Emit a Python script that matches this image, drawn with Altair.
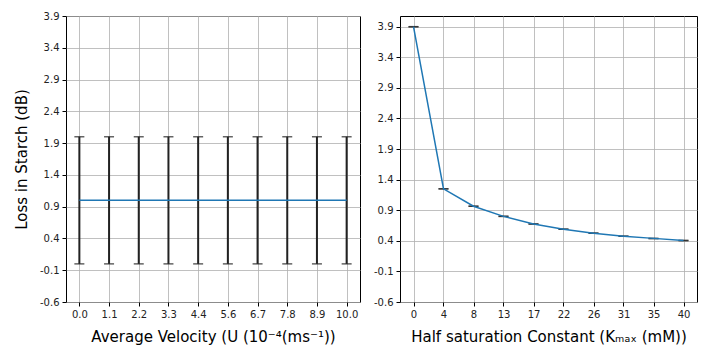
import altair as alt
import pandas as pd

# ---- data ----
velocity = [0.0, 1.111, 2.222, 3.333, 4.444, 5.556, 6.667, 7.778, 8.889, 10.0]
loss_velocity = [1.0, 1.0, 1.0, 1.0, 1.0, 1.0, 1.0, 1.0, 1.0, 1.0]
err_velocity = [1.0, 1.0, 1.0, 1.0, 1.0, 1.0, 1.0, 1.0, 1.0, 1.0]

kmax = [0.0, 4.444, 8.889, 13.333, 17.778, 22.222, 26.667, 31.111, 35.556, 40.0]
loss_kmax = [3.9, 1.25, 0.965, 0.80, 0.675, 0.59, 0.525, 0.475, 0.44, 0.405]
err_kmax = [0.0, 0.0, 0.0, 0.0, 0.0, 0.0, 0.0, 0.0, 0.0, 0.0]

y_ticks = [-0.6, -0.1, 0.4, 0.9, 1.4, 1.9, 2.4, 2.9, 3.4, 3.9]

LINE = "#1f77b4"
ERR = "#222222"


def make_df(xs, ys, es):
    return pd.DataFrame({
        "x": xs, "y": ys,
        "lo": [a - b for a, b in zip(ys, es)],
        "hi": [a + b for a, b in zip(ys, es)],
    })


Y_LABEL = "replace(format(datum.value, '.1f'), '\u2212', '-')"


def panel(df, xdomain, xticks, label_expr, ydomain, xtitle, ytitle, width, bar_width):
    base = alt.Chart(df)
    xenc = alt.X("x:Q", scale=alt.Scale(domain=xdomain, nice=False, zero=False),
                 axis=alt.Axis(values=xticks, tickCount=30, labelExpr=label_expr, title=xtitle,
                               labelOverlap=False, labelFlush=False))
    if ytitle:
        yaxis = alt.Axis(values=y_ticks, tickCount=30, labelExpr=Y_LABEL, title=ytitle,
                         labelOverlap=False, labelFlush=False)
    else:
        yaxis = alt.Axis(values=y_ticks, tickCount=30, labelExpr=Y_LABEL, title=None,
                         labelOverlap=False, labelFlush=False)
    yenc = alt.Y("lo:Q", scale=alt.Scale(domain=ydomain, nice=False, zero=False), axis=yaxis)
    bars = base.mark_rule(color=ERR, strokeWidth=bar_width).encode(x=xenc, y=yenc, y2="hi:Q")
    cap_lo = base.mark_tick(orient="horizontal", color=ERR, size=10, thickness=1.5).encode(
        x="x:Q", y="lo:Q")
    cap_hi = base.mark_tick(orient="horizontal", color=ERR, size=10, thickness=1.5).encode(
        x="x:Q", y="hi:Q")
    line = base.mark_line(color=LINE, strokeWidth=1.5).encode(x="x:Q", y="y:Q")
    return alt.layer(bars, cap_lo, cap_hi, line).properties(width=width, height=286)


left = panel(make_df(velocity, loss_velocity, err_velocity), [-0.5, 10.5], velocity,
             "format(datum.value, '.1f')", [-0.6, 3.9],
             "Average Velocity (U (10⁻⁴(ms⁻¹))", "Loss in Starch (dB)", 294, 2)
right = panel(make_df(kmax, loss_kmax, err_kmax), [-2, 42], kmax,
              "format(floor(datum.value + 1e-9), 'd')", [-0.6, 4.075],
              "Half saturation Constant (Kₘₐₓ (mM))", None, 297, 1)

chart = alt.hconcat(left, right, spacing=11).properties(
    padding={"left": 5, "top": 2, "right": 5, "bottom": 5}
).configure_view(
    stroke="black", strokeWidth=1
).configure_axis(
    grid=True, gridColor="#b0b0b0", gridWidth=0.8, domain=False,
    tickColor="black", tickSize=4, labelColor="#222222", labelFont="DejaVu Sans",
    labelFontSize=10, titleFont="DejaVu Sans", titleFontSize=15,
    titleFontWeight="normal", titleColor="black", labelPadding=3,
).configure_axisX(titlePadding=10).configure_axisY(titlePadding=10)

chart.save("out.html", embed_options={"renderer": "svg", "actions": False})
